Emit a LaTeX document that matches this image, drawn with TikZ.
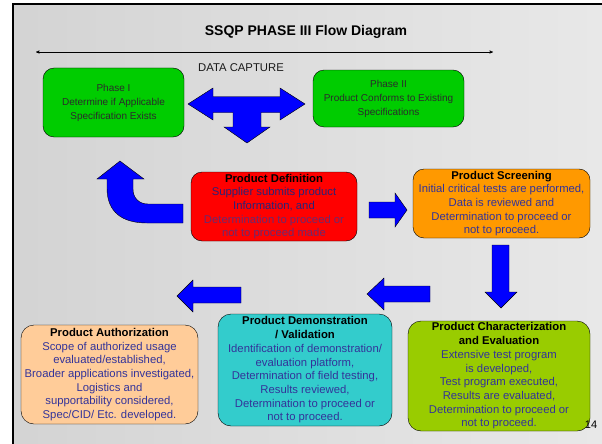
\documentclass[tikz,border=0pt]{standalone}
\usepackage{fontspec}
\setmainfont{Liberation Sans}
\usetikzlibrary{arrows}
\definecolor{phgreen}{HTML}{00CC00}
\definecolor{defred}{HTML}{FF0000}
\definecolor{scrorange}{HTML}{FF9900}
\definecolor{authpeach}{HTML}{FFCC99}
\definecolor{demoteal}{HTML}{33CCCC}
\definecolor{charlime}{HTML}{99CC00}
\definecolor{arrblue}{HTML}{0000FF}
\definecolor{txtblue}{HTML}{333399}
\definecolor{defnavy}{HTML}{2A2378}
\definecolor{defpurple}{HTML}{6A2A70}
\definecolor{phtext}{HTML}{2B2B2B}
\begin{document}
\begin{tikzpicture}[x=1pt,y=-1pt,thin,
  box/.style={draw=black,rounded corners=13pt,inner sep=0pt,align=center,
    text=txtblue,font=\fontsize{11.3}{13.7}\selectfont},
  phasebox/.style={box,fill=phgreen,rounded corners=11pt,text=phtext,
    font=\fontsize{10}{14}\selectfont},
  blkarrow/.style={draw=black,fill=arrblue,line join=miter}]
\useasboundingbox (0,0) rectangle (602,444);
\fill[white] (0,0) rectangle (602,444);
\shade[left color=black!17,right color=black!9] (13,4) rectangle (602,444);
\draw[line width=2pt] (13,444)--(13,4)--(602,4);
\node[font=\bfseries\fontsize{14}{16}\selectfont] (title) at (306,32) {SSQP PHASE III Flow Diagram};
\coordinate (capL) at (36,52);
\coordinate (capR) at (493,52);
\draw[stealth'-stealth'] (capL)--(capR);
\node[font=\fontsize{11.3}{13}\selectfont,text=black!90] (capture) at (241,68) {DATA CAPTURE};
% phases
\node[phasebox,minimum width=141pt,minimum height=69pt] (phaseI) at (113.5,102.5)
  {Phase I\\Determine if Applicable\\Specification Exists};
\node[phasebox,minimum width=151pt,minimum height=57pt] (phaseII) at (388.5,98.5)
  {Phase II\\Product Conforms to Existing\\Specifications};
\draw[blkarrow] (188,104)--(213,88)--(213,96.5)--(280,96.5)--(280,88)--(305,104)
  --(280,120)--(280,112.5)--(261,112.5)--(261,127)--(270,127)--(247,143)
  --(224,127)--(233,127)--(233,112.5)--(213,112.5)--(213,120)--cycle;
% product boxes
\node[box,fill=defred,text=defnavy,rounded corners=11pt,minimum width=166pt,minimum height=69pt] (define) at (274,206.5)
  {\textcolor{black}{\bfseries Product Definition}\\Supplier submits product\\Information, and\\
   \textcolor{defpurple}{Determination to proceed or}\\\textcolor{defpurple}{not to proceed made}};
\node[box,fill=scrorange,rounded corners=11pt,minimum width=177pt,minimum height=69pt] (screen) at (501.5,203.5)
  {\textcolor{black}{\bfseries Product Screening}\\Initial critical tests are performed,\\Data is reviewed and\\
   Determination to proceed or\\not to proceed.};
\node[box,fill=authpeach,minimum width=177pt,minimum height=99pt] (author) at (109.5,374.5)
  {\textcolor{black}{\bfseries Product Authorization}\\Scope of authorized usage\\evaluated/established,\\
   Broader applications investigated,\\Logistics and\\supportability considered,\\Spec/CID/ Etc. developed.};
\node[box,fill=demoteal,minimum width=174pt,minimum height=112pt] (demo) at (305,370)
  {\textcolor{black}{\bfseries Product Demonstration}\\\textcolor{black}{\bfseries / Validation}\\
   Identification of demonstration/\\evaluation platform,\\Determination of field testing,\\
   Results reviewed,\\Determination to proceed or\\not to proceed.};
\node[box,fill=charlime,minimum width=182pt,minimum height=110pt] (charac) at (499,376)
  {\textcolor{black}{\bfseries Product Characterization}\\\textcolor{black}{\bfseries and Evaluation}\\
   Extensive test program\\is developed,\\Test program executed,\\Results are evaluated,\\
   Determination to proceed or\\not to proceed.};
% block arrows
\draw[blkarrow] (107,179)--(107,188) .. controls (107,212) and (122,223) .. (147,223)
  --(183,223)--(183,204)--(148,204) .. controls (139,204) and (133,198) .. (133,189)
  --(133,179)--(144,179)--(120,161)--(97,179)--cycle;
\draw[blkarrow] (369,202)--(395,202)--(395,193)--(407,210)--(395,227)--(395,218)--(369,218)--cycle;
\draw[blkarrow] (492,245)--(509,245)--(509,292)--(517,292)--(501,308)--(485,292)--(492,292)--cycle;
\draw[blkarrow] (430,286)--(384,286)--(384,278)--(367,294)--(384,310)--(384,302)--(430,302)--cycle;
\draw[blkarrow] (241,287)--(193,287)--(193,280)--(177,296)--(193,312)--(193,303)--(241,303)--cycle;
\node[font=\fontsize{11}{13}\selectfont] (pgno) at (591,425) {14};
\end{tikzpicture}
\end{document}
